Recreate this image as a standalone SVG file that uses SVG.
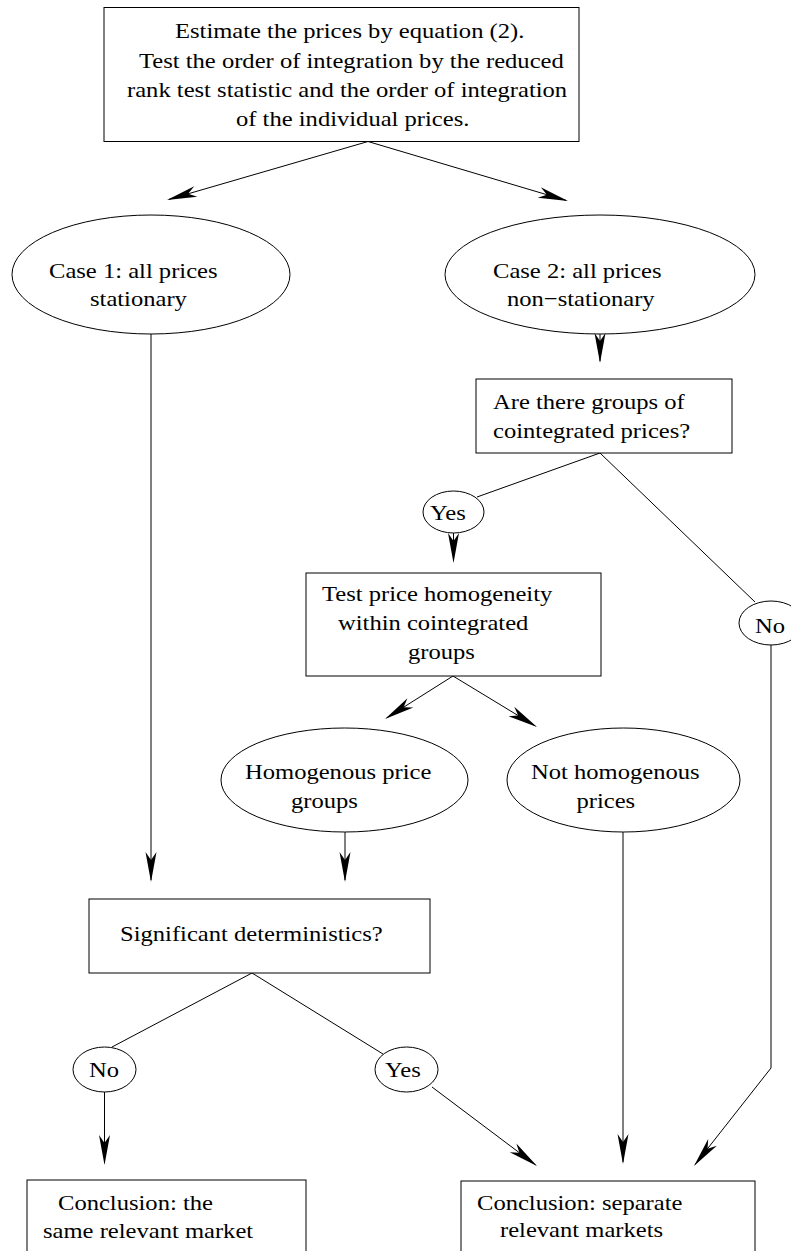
<svg xmlns="http://www.w3.org/2000/svg" width="791" height="1251" viewBox="0 0 791 1251">
<style>
  .box{fill:#fff;stroke:#000;stroke-width:1}
  .t{font-family:"Liberation Serif","Times New Roman",serif;font-size:21.5px;fill:#000}
  .c{fill:none;stroke:#000;stroke-width:1}
</style>
<defs>
  <marker id="ah" markerUnits="userSpaceOnUse" markerWidth="32" markerHeight="12" refX="28" refY="6" orient="auto" overflow="visible">
    <path d="M30,6 L0,0.5 L8,6 L0,11.5 Z" fill="#000"/>
  </marker>
</defs>
<rect width="791" height="1251" fill="#fff"/>

<g id="connectors">
  <line class="c" x1="368" y1="141.5" x2="168.9" y2="199.4" marker-end="url(#ah)"/>
  <line class="c" x1="368" y1="141.5" x2="566.1" y2="200.4" marker-end="url(#ah)"/>
  <line class="c" x1="151" y1="334" x2="151" y2="880" marker-end="url(#ah)"/>
  <line class="c" x1="600" y1="334" x2="600" y2="361" marker-end="url(#ah)"/>
  <line class="c" x1="600" y1="453" x2="477" y2="497"/>
  <line class="c" x1="600" y1="453" x2="755" y2="602"/>
  <line class="c" x1="453.5" y1="533" x2="453.5" y2="561" marker-end="url(#ah)"/>
  <polyline class="c" points="771,645 771,1068 695.2,1164.4" marker-end="url(#ah)"/>
  <line class="c" x1="453" y1="676" x2="386.7" y2="717.9" marker-end="url(#ah)"/>
  <line class="c" x1="453" y1="676" x2="535.3" y2="726" marker-end="url(#ah)"/>
  <line class="c" x1="345" y1="832" x2="345" y2="880" marker-end="url(#ah)"/>
  <line class="c" x1="623" y1="832" x2="623" y2="1162" marker-end="url(#ah)"/>
  <line class="c" x1="252" y1="973" x2="112" y2="1047"/>
  <line class="c" x1="252" y1="973" x2="383" y2="1054"/>
  <line class="c" x1="104.5" y1="1092" x2="104.5" y2="1163" marker-end="url(#ah)"/>
  <line class="c" x1="432" y1="1087" x2="535.4" y2="1164.8" marker-end="url(#ah)"/>
</g>

<g id="estimate">
  <rect class="box" x="104" y="7.5" width="475" height="134"/>
  <text class="t" transform="translate(175,38) scale(1.144,1)">Estimate the prices by equation (2).</text>
  <text class="t" transform="translate(139,67.5) scale(1.144,1)">Test the order of integration by the reduced</text>
  <text class="t" transform="translate(127,97) scale(1.144,1)">rank test statistic and the order of integration</text>
  <text class="t" transform="translate(236,126) scale(1.144,1)">of the individual prices.</text>
</g>

<g id="case1">
  <ellipse class="box" cx="151" cy="274.5" rx="139" ry="59.5"/>
  <text class="t" transform="translate(49,278) scale(1.144,1)">Case 1: all prices</text>
  <text class="t" transform="translate(90,306) scale(1.144,1)">stationary</text>
</g>

<g id="case2">
  <ellipse class="box" cx="600" cy="274.5" rx="155" ry="59.5"/>
  <text class="t" transform="translate(493,278) scale(1.144,1)">Case 2: all prices</text>
  <text class="t" transform="translate(507,306) scale(1.144,1)">non−stationary</text>
</g>

<g id="groups-question">
  <rect class="box" x="476" y="379" width="256" height="74"/>
  <text class="t" transform="translate(493,409) scale(1.144,1)">Are there groups of</text>
  <text class="t" transform="translate(493,438) scale(1.144,1)">cointegrated prices?</text>
</g>

<g id="yes-top">
  <ellipse class="box" cx="453.5" cy="512" rx="30.5" ry="21"/>
  <text class="t" transform="translate(430,520) scale(1.144,1)">Yes</text>
</g>

<g id="no-right">
  <ellipse class="box" cx="771" cy="623" rx="32" ry="22"/>
  <text class="t" transform="translate(755,633) scale(1.144,1)">No</text>
</g>

<g id="test-homogeneity">
  <rect class="box" x="306" y="573" width="295" height="103"/>
  <text class="t" transform="translate(322,600.5) scale(1.144,1)">Test price homogeneity</text>
  <text class="t" transform="translate(338,630) scale(1.144,1)">within cointegrated</text>
  <text class="t" transform="translate(408,659) scale(1.144,1)">groups</text>
</g>

<g id="homogenous">
  <ellipse class="box" cx="344.5" cy="780" rx="123.5" ry="52"/>
  <text class="t" transform="translate(245,779) scale(1.144,1)">Homogenous price</text>
  <text class="t" transform="translate(291,808) scale(1.144,1)">groups</text>
</g>

<g id="not-homogenous">
  <ellipse class="box" cx="623.5" cy="780" rx="116.5" ry="52"/>
  <text class="t" transform="translate(531,779) scale(1.144,1)">Not homogenous</text>
  <text class="t" transform="translate(576.5,808) scale(1.144,1)">prices</text>
</g>

<g id="deterministics">
  <rect class="box" x="89" y="899" width="341" height="74"/>
  <text class="t" transform="translate(120,941) scale(1.144,1)">Significant deterministics?</text>
</g>

<g id="no-bottom">
  <ellipse class="box" cx="104.5" cy="1069.5" rx="31.5" ry="22.5"/>
  <text class="t" transform="translate(89,1077) scale(1.144,1)">No</text>
</g>

<g id="yes-bottom">
  <ellipse class="box" cx="406.5" cy="1069.5" rx="31.5" ry="22.5"/>
  <text class="t" transform="translate(385,1077) scale(1.144,1)">Yes</text>
</g>

<g id="same-market">
  <rect class="box" x="27" y="1180" width="279" height="100"/>
  <text class="t" transform="translate(58,1210) scale(1.144,1)">Conclusion: the</text>
  <text class="t" transform="translate(43,1238) scale(1.144,1)">same relevant market</text>
</g>

<g id="separate-markets">
  <rect class="box" x="461" y="1181" width="294" height="100"/>
  <text class="t" transform="translate(477,1210) scale(1.144,1)">Conclusion: separate</text>
  <text class="t" transform="translate(500,1237) scale(1.144,1)">relevant markets</text>
</g>
</svg>
